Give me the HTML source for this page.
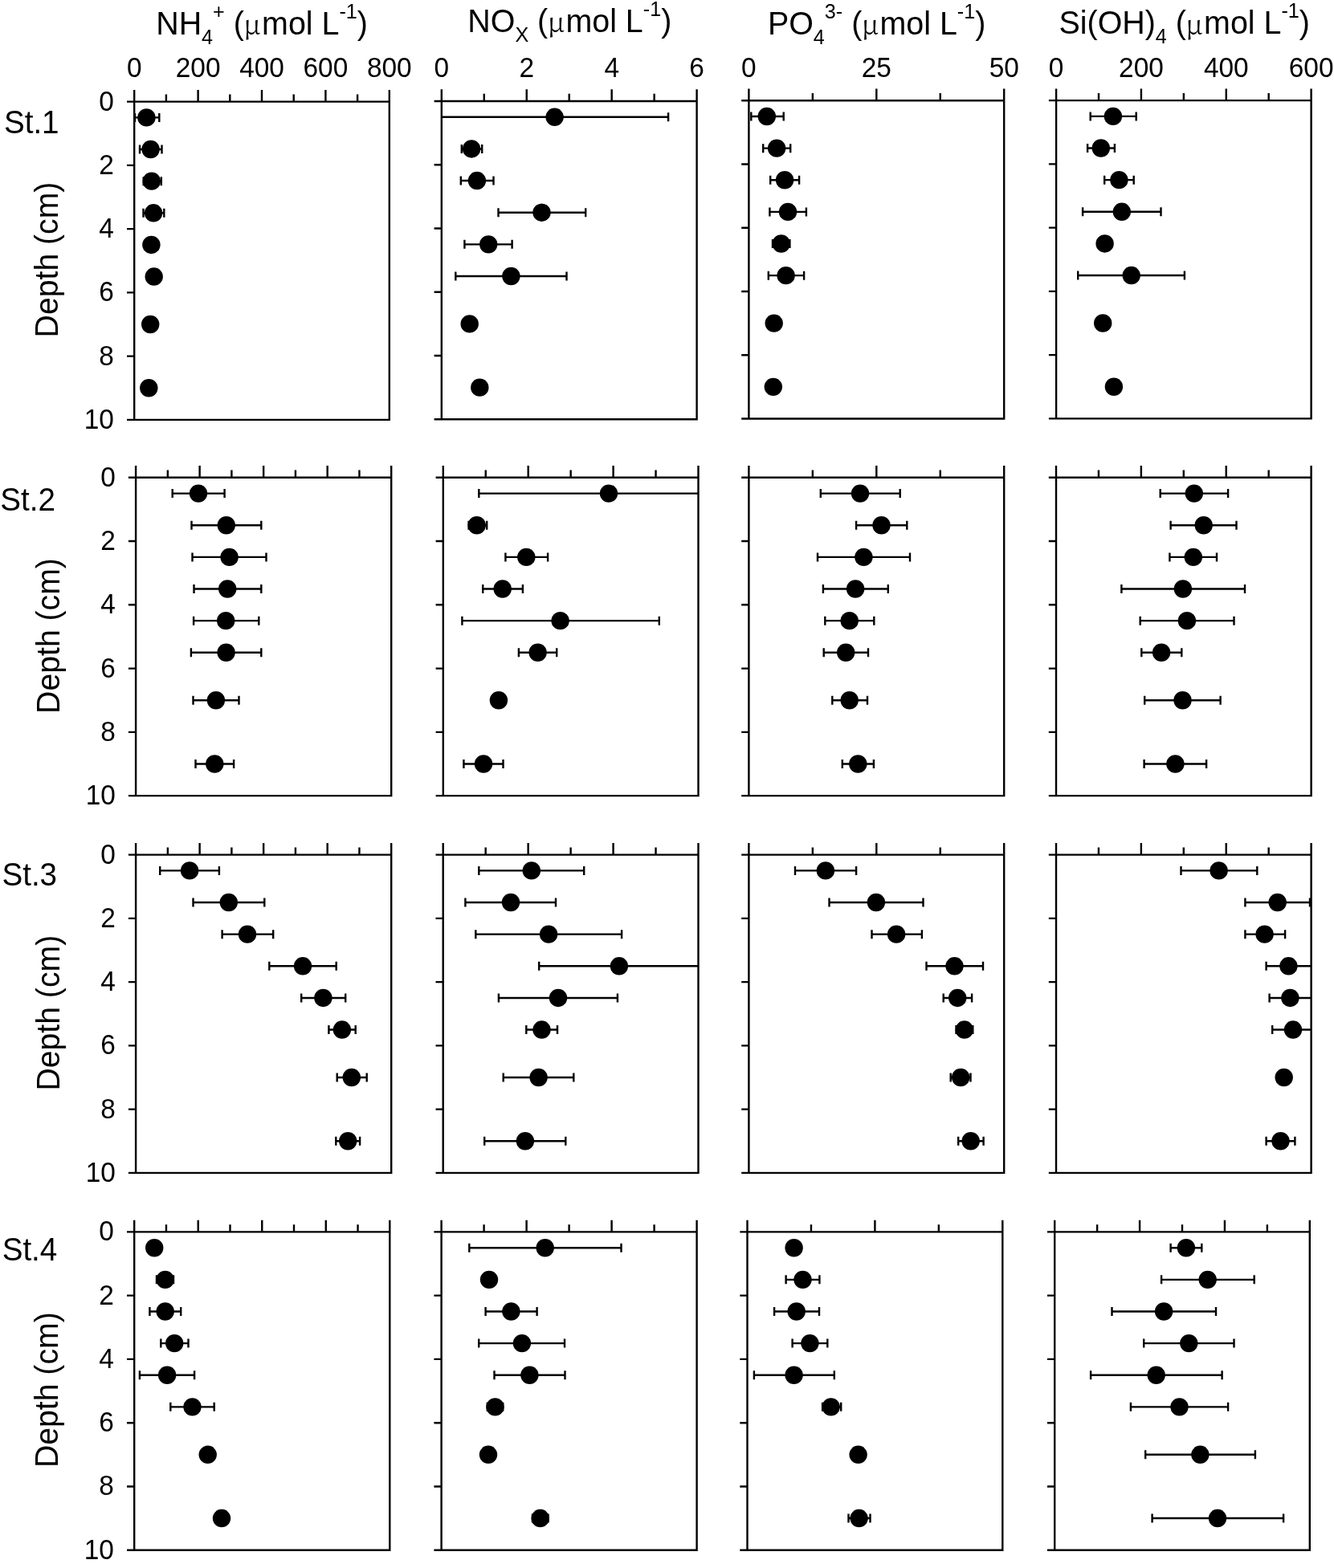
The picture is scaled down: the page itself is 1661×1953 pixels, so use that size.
<!DOCTYPE html>
<html><head><meta charset="utf-8"><title>Nutrient depth profiles</title>
<style>
html,body{margin:0;padding:0;background:#fff;}
body{width:1661px;height:1953px;overflow:hidden;}
svg{display:block;}
</style></head><body>
<svg width="1661" height="1953" viewBox="0 0 1661 1953">
<rect width="1661" height="1953" fill="#fff"/>
<path fill="none" stroke="#000" stroke-width="2.4" stroke-linecap="butt" stroke-linejoin="miter" d="M167.2 126.6H484.8V522.9H167.2ZM167.2 126.6V111.9M206.9 126.6V117.4M246.6 126.6V111.9M286.3 126.6V117.4M326 126.6V111.9M365.7 126.6V117.4M405.4 126.6V111.9M445.1 126.6V117.4M484.8 126.6V111.9M167.2 126.6H158M167.2 205.86H158M167.2 285.12H158M167.2 364.38H158M167.2 443.64H158M167.2 522.9H158M168 146.41H198.3M168 140.91v11M198.3 140.91v11M174 186.04H201.5M174 180.54v11M201.5 180.54v11M178.7 225.67H200.8M178.7 220.17v11M200.8 220.17v11M178.5 265.3H204.3M178.5 259.8v11M204.3 259.8v11M549.8 126H867.6V522.3H549.8ZM549.8 126V111.3M602.77 126V116.8M655.73 126V111.3M708.7 126V116.8M761.67 126V111.3M814.63 126V116.8M867.6 126V111.3M549.8 126H540.6M549.8 205.26H540.6M549.8 284.52H540.6M549.8 363.78H540.6M549.8 443.04H540.6M549.8 522.3H540.6M549.8 145.81H832.1M832.1 140.31v11M574.8 185.44H600.2M574.8 179.94v11M600.2 179.94v11M573.8 225.07H614.5M573.8 219.57v11M614.5 219.57v11M620.5 264.7H729.2M620.5 259.2v11M729.2 259.2v11M578.4 304.33H637.6M578.4 298.83v11M637.6 298.83v11M567.3 343.96H705.5M567.3 338.46v11M705.5 338.46v11M932.4 125.2H1250.2V521.5H932.4ZM932.4 125.2V110.5M1011.85 125.2V116M1091.3 125.2V110.5M1170.75 125.2V116M1250.2 125.2V110.5M932.4 125.2H923.2M932.4 204.46H923.2M932.4 283.72H923.2M932.4 362.98H923.2M932.4 442.24H923.2M932.4 521.5H923.2M935.3 145.02H975.7M935.3 139.52v11M975.7 139.52v11M950.2 184.65H984.2M950.2 179.15v11M984.2 179.15v11M959.2 224.28H995.1M959.2 218.78v11M995.1 218.78v11M958.4 263.9H1003.9M958.4 258.4v11M1003.9 258.4v11M962 303.54H983.4M962 298.04v11M983.4 298.04v11M956.8 343.17H1001.1M956.8 337.67v11M1001.1 337.67v11M1315.1 125.1H1632.6V521.4H1315.1ZM1315.1 125.1V110.4M1368.02 125.1V115.9M1420.93 125.1V110.4M1473.85 125.1V115.9M1526.77 125.1V110.4M1579.68 125.1V115.9M1632.6 125.1V110.4M1315.1 125.1H1305.9M1315.1 204.36H1305.9M1315.1 283.62H1305.9M1315.1 362.88H1305.9M1315.1 442.14H1305.9M1315.1 521.4H1305.9M1357.7 144.91H1414.7M1357.7 139.41v11M1414.7 139.41v11M1354.1 184.54H1387.9M1354.1 179.04v11M1387.9 179.04v11M1375.2 224.17H1411.7M1375.2 218.67v11M1411.7 218.67v11M1348.1 263.8H1445.5M1348.1 258.3v11M1445.5 258.3v11M1342.2 343.06H1474.9M1342.2 337.56v11M1474.9 337.56v11M169.1 594.8H487.2V991.1H169.1ZM169.1 594.8V580.1M208.86 594.8V585.6M248.62 594.8V580.1M288.39 594.8V585.6M328.15 594.8V580.1M367.91 594.8V585.6M407.67 594.8V580.1M447.44 594.8V585.6M487.2 594.8V580.1M169.1 594.8H159.9M169.1 674.06H159.9M169.1 753.32H159.9M169.1 832.58H159.9M169.1 911.84H159.9M169.1 991.1H159.9M214.7 614.62H279.6M214.7 609.12v11M279.6 609.12v11M238.5 654.24H325.3M238.5 648.74v11M325.3 648.74v11M239.5 693.88H331.5M239.5 688.38v11M331.5 688.38v11M241.5 733.5H325.3M241.5 728v11M325.3 728v11M241.1 773.13H322.3M241.1 767.63v11M322.3 767.63v11M237.9 812.76H325.3M237.9 807.26v11M325.3 807.26v11M240.5 872.21H297.5M240.5 866.71v11M297.5 866.71v11M243.5 951.47H291.1M243.5 945.97v11M291.1 945.97v11M551.8 594.8H869.5V991.1H551.8ZM551.8 594.8V580.1M604.75 594.8V585.6M657.7 594.8V580.1M710.65 594.8V585.6M763.6 594.8V580.1M816.55 594.8V585.6M869.5 594.8V580.1M551.8 594.8H542.6M551.8 674.06H542.6M551.8 753.32H542.6M551.8 832.58H542.6M551.8 911.84H542.6M551.8 991.1H542.6M596.3 614.62H869.5M596.3 609.12v11M583.6 654.24H606.2M583.6 648.74v11M606.2 648.74v11M629.4 693.88H682.1M629.4 688.38v11M682.1 688.38v11M601.2 733.5H650.9M601.2 728v11M650.9 728v11M575.4 773.13H820.8M575.4 767.63v11M820.8 767.63v11M645.9 812.76H693.2M645.9 807.26v11M693.2 807.26v11M577.4 951.47H626.5M577.4 945.97v11M626.5 945.97v11M932.4 594.8H1250.2V991.1H932.4ZM932.4 594.8V580.1M1011.85 594.8V585.6M1091.3 594.8V580.1M1170.75 594.8V585.6M1250.2 594.8V580.1M932.4 594.8H923.2M932.4 674.06H923.2M932.4 753.32H923.2M932.4 832.58H923.2M932.4 911.84H923.2M932.4 991.1H923.2M1021.8 614.62H1120.7M1021.8 609.12v11M1120.7 609.12v11M1066.1 654.24H1129.3M1066.1 648.74v11M1129.3 648.74v11M1018 693.88H1133M1018 688.38v11M1133 688.38v11M1024.9 733.5H1105.8M1024.9 728v11M1105.8 728v11M1027.3 773.13H1088.3M1027.3 767.63v11M1088.3 767.63v11M1025.7 812.76H1081M1025.7 807.26v11M1081 807.26v11M1036.3 872.21H1080M1036.3 866.71v11M1080 866.71v11M1048.8 951.47H1087.9M1048.8 945.97v11M1087.9 945.97v11M1315 594.8H1632.6V991.1H1315ZM1315 594.8V580.1M1367.93 594.8V585.6M1420.87 594.8V580.1M1473.8 594.8V585.6M1526.73 594.8V580.1M1579.67 594.8V585.6M1632.6 594.8V580.1M1315 594.8H1305.8M1315 674.06H1305.8M1315 753.32H1305.8M1315 832.58H1305.8M1315 911.84H1305.8M1315 991.1H1305.8M1444.7 614.62H1529.1M1444.7 609.12v11M1529.1 609.12v11M1457.6 654.24H1539.5M1457.6 648.74v11M1539.5 648.74v11M1456.4 693.88H1515M1456.4 688.38v11M1515 688.38v11M1396.4 733.5H1550M1396.4 728v11M1550 728v11M1419.7 773.13H1536.5M1419.7 767.63v11M1536.5 767.63v11M1421.3 812.76H1471.3M1421.3 807.26v11M1471.3 807.26v11M1425.2 872.21H1519.6M1425.2 866.71v11M1519.6 866.71v11M1424.6 951.47H1502.1M1424.6 945.97v11M1502.1 945.97v11M169.1 1064.6H487.2V1460.9H169.1ZM169.1 1064.6V1049.9M208.86 1064.6V1055.4M248.62 1064.6V1049.9M288.39 1064.6V1055.4M328.15 1064.6V1049.9M367.91 1064.6V1055.4M407.67 1064.6V1049.9M447.44 1064.6V1055.4M487.2 1064.6V1049.9M169.1 1064.6H159.9M169.1 1143.86H159.9M169.1 1223.12H159.9M169.1 1302.38H159.9M169.1 1381.64H159.9M169.1 1460.9H159.9M199.2 1084.41H272.9M199.2 1078.91v11M272.9 1078.91v11M240.5 1124.04H329.3M240.5 1118.54v11M329.3 1118.54v11M276.6 1163.67H340.2M276.6 1158.17v11M340.2 1158.17v11M335.3 1203.3H418.7M335.3 1197.8v11M418.7 1197.8v11M375.2 1242.93H430.2M375.2 1237.43v11M430.2 1237.43v11M409.4 1282.56H442.7M409.4 1277.06v11M442.7 1277.06v11M419.7 1342.01H456.7M419.7 1336.51v11M456.7 1336.51v11M418.3 1421.27H448.1M418.3 1415.77v11M448.1 1415.77v11M551.7 1064.6H869.5V1460.9H551.7ZM551.7 1064.6V1049.9M604.67 1064.6V1055.4M657.63 1064.6V1049.9M710.6 1064.6V1055.4M763.57 1064.6V1049.9M816.53 1064.6V1055.4M869.5 1064.6V1049.9M551.7 1064.6H542.5M551.7 1143.86H542.5M551.7 1223.12H542.5M551.7 1302.38H542.5M551.7 1381.64H542.5M551.7 1460.9H542.5M596.3 1084.41H727.2M596.3 1078.91v11M727.2 1078.91v11M579.4 1124.04H692M579.4 1118.54v11M692 1118.54v11M592.3 1163.67H774.1M592.3 1158.17v11M774.1 1158.17v11M671.2 1203.3H869.5M671.2 1197.8v11M620.9 1242.93H768.9M620.9 1237.43v11M768.9 1237.43v11M655.3 1282.56H694M655.3 1277.06v11M694 1277.06v11M626.7 1342.01H714.3M626.7 1336.51v11M714.3 1336.51v11M603.2 1421.27H704.3M603.2 1415.77v11M704.3 1415.77v11M932.4 1064.6H1250.2V1460.9H932.4ZM932.4 1064.6V1049.9M1011.85 1064.6V1055.4M1091.3 1064.6V1049.9M1170.75 1064.6V1055.4M1250.2 1064.6V1049.9M932.4 1064.6H923.2M932.4 1143.86H923.2M932.4 1223.12H923.2M932.4 1302.38H923.2M932.4 1381.64H923.2M932.4 1460.9H923.2M990 1084.41H1066.1M990 1078.91v11M1066.1 1078.91v11M1032.5 1124.04H1149.5M1032.5 1118.54v11M1149.5 1118.54v11M1085.5 1163.67H1147.9M1085.5 1158.17v11M1147.9 1158.17v11M1153.5 1203.3H1224M1153.5 1197.8v11M1224 1197.8v11M1174.7 1242.93H1210.1M1174.7 1237.43v11M1210.1 1237.43v11M1190.5 1282.56H1211.3M1190.5 1277.06v11M1211.3 1277.06v11M1183.7 1342.01H1208.5M1183.7 1336.51v11M1208.5 1336.51v11M1193.2 1421.27H1224.6M1193.2 1415.77v11M1224.6 1415.77v11M1315 1064.6H1632.6V1460.9H1315ZM1315 1064.6V1049.9M1367.93 1064.6V1055.4M1420.87 1064.6V1049.9M1473.8 1064.6V1055.4M1526.73 1064.6V1049.9M1579.67 1064.6V1055.4M1632.6 1064.6V1049.9M1315 1064.6H1305.8M1315 1143.86H1305.8M1315 1223.12H1305.8M1315 1302.38H1305.8M1315 1381.64H1305.8M1315 1460.9H1305.8M1470.5 1084.41H1565.3M1470.5 1078.91v11M1565.3 1078.91v11M1550.4 1124.04H1631M1550.4 1118.54v11M1631 1118.54v11M1550.4 1163.67H1600.1M1550.4 1158.17v11M1600.1 1158.17v11M1576.6 1203.3H1632.6M1576.6 1197.8v11M1580.6 1242.93H1632.6M1580.6 1237.43v11M1584.2 1282.56H1632.6M1584.2 1277.06v11M1576.6 1421.27H1612.4M1576.6 1415.77v11M1612.4 1415.77v11M167.2 1534.4H485.3V1930.7H167.2ZM167.2 1534.4V1519.7M206.96 1534.4V1525.2M246.72 1534.4V1519.7M286.49 1534.4V1525.2M326.25 1534.4V1519.7M366.01 1534.4V1525.2M405.77 1534.4V1519.7M445.54 1534.4V1525.2M485.3 1534.4V1519.7M167.2 1534.4H158M167.2 1613.66H158M167.2 1692.92H158M167.2 1772.18H158M167.2 1851.44H158M167.2 1930.7H158M195 1593.85H216M195 1588.35v11M216 1588.35v11M186.4 1633.48H225.2M186.4 1627.98v11M225.2 1627.98v11M200.3 1673.11H234.5M200.3 1667.61v11M234.5 1667.61v11M173.9 1712.74H242.1M173.9 1707.24v11M242.1 1707.24v11M212.3 1752.37H266.7M212.3 1746.87v11M266.7 1746.87v11M549.6 1534.4H867.6V1930.7H549.6ZM549.6 1534.4V1519.7M602.6 1534.4V1525.2M655.6 1534.4V1519.7M708.6 1534.4V1525.2M761.6 1534.4V1519.7M814.6 1534.4V1525.2M867.6 1534.4V1519.7M549.6 1534.4H540.4M549.6 1613.66H540.4M549.6 1692.92H540.4M549.6 1772.18H540.4M549.6 1851.44H540.4M549.6 1930.7H540.4M584.3 1554.22H773.5M584.3 1548.72v11M773.5 1548.72v11M604.6 1633.48H668.6M604.6 1627.98v11M668.6 1627.98v11M596.2 1673.11H703M596.2 1667.61v11M703 1667.61v11M615.5 1712.74H703.5M615.5 1707.24v11M703.5 1707.24v11M606.8 1752.37H626.2M606.8 1746.87v11M626.2 1746.87v11M663 1891.07H682.5M663 1885.57v11M682.5 1885.57v11M930.5 1534.4H1248.3V1930.7H930.5ZM930.5 1534.4V1519.7M1009.95 1534.4V1525.2M1089.4 1534.4V1519.7M1168.85 1534.4V1525.2M1248.3 1534.4V1519.7M930.5 1534.4H921.3M930.5 1613.66H921.3M930.5 1692.92H921.3M930.5 1772.18H921.3M930.5 1851.44H921.3M930.5 1930.7H921.3M978.6 1593.85H1020.4M978.6 1588.35v11M1020.4 1588.35v11M964.1 1633.48H1020M964.1 1627.98v11M1020 1627.98v11M986.6 1673.11H1030.3M986.6 1667.61v11M1030.3 1667.61v11M938.9 1712.74H1038.8M938.9 1707.24v11M1038.8 1707.24v11M1024.1 1752.37H1047.2M1024.1 1746.87v11M1047.2 1746.87v11M1056.5 1891.07H1083.5M1056.5 1885.57v11M1083.5 1885.57v11M1313.2 1534.4H1630.8V1930.7H1313.2ZM1313.2 1534.4V1519.7M1366.13 1534.4V1525.2M1419.07 1534.4V1519.7M1472 1534.4V1525.2M1524.93 1534.4V1519.7M1577.87 1534.4V1525.2M1630.8 1534.4V1519.7M1313.2 1534.4H1304M1313.2 1613.66H1304M1313.2 1692.92H1304M1313.2 1772.18H1304M1313.2 1851.44H1304M1313.2 1930.7H1304M1457.6 1554.22H1496.3M1457.6 1548.72v11M1496.3 1548.72v11M1446.1 1593.85H1561.7M1446.1 1588.35v11M1561.7 1588.35v11M1384.5 1633.48H1514M1384.5 1627.98v11M1514 1627.98v11M1424.2 1673.11H1536.5M1424.2 1667.61v11M1536.5 1667.61v11M1358.1 1712.74H1521.6M1358.1 1707.24v11M1521.6 1707.24v11M1407.9 1752.37H1529.1M1407.9 1746.87v11M1529.1 1746.87v11M1426.2 1811.81H1562.9M1426.2 1806.31v11M1562.9 1806.31v11M1434.6 1891.07H1598.1M1434.6 1885.57v11M1598.1 1885.57v11"/>
<g fill="#000">
<circle cx="182.4" cy="146.41" r="11.2"/>
<circle cx="187.6" cy="186.04" r="11.2"/>
<circle cx="188.8" cy="225.67" r="11.2"/>
<circle cx="191.1" cy="265.3" r="11.2"/>
<circle cx="188.4" cy="304.93" r="11.2"/>
<circle cx="191.7" cy="344.56" r="11.2"/>
<circle cx="187.2" cy="404.01" r="11.2"/>
<circle cx="185.3" cy="483.27" r="11.2"/>
<circle cx="690.6" cy="145.81" r="11.2"/>
<circle cx="587.1" cy="185.44" r="11.2"/>
<circle cx="593.9" cy="225.07" r="11.2"/>
<circle cx="674.5" cy="264.7" r="11.2"/>
<circle cx="608.2" cy="304.33" r="11.2"/>
<circle cx="636.4" cy="343.96" r="11.2"/>
<circle cx="584.7" cy="403.41" r="11.2"/>
<circle cx="597.3" cy="482.67" r="11.2"/>
<circle cx="954.8" cy="145.02" r="11.2"/>
<circle cx="967.1" cy="184.65" r="11.2"/>
<circle cx="977.1" cy="224.28" r="11.2"/>
<circle cx="981" cy="263.9" r="11.2"/>
<circle cx="972.7" cy="303.54" r="11.2"/>
<circle cx="978.6" cy="343.17" r="11.2"/>
<circle cx="963.7" cy="402.61" r="11.2"/>
<circle cx="962.8" cy="481.87" r="11.2"/>
<circle cx="1385.9" cy="144.91" r="11.2"/>
<circle cx="1370.8" cy="184.54" r="11.2"/>
<circle cx="1393.4" cy="224.17" r="11.2"/>
<circle cx="1396.8" cy="263.8" r="11.2"/>
<circle cx="1375.6" cy="303.43" r="11.2"/>
<circle cx="1408.7" cy="343.06" r="11.2"/>
<circle cx="1373.2" cy="402.51" r="11.2"/>
<circle cx="1386.9" cy="481.77" r="11.2"/>
<circle cx="247" cy="614.62" r="11.2"/>
<circle cx="281.8" cy="654.24" r="11.2"/>
<circle cx="285.6" cy="693.88" r="11.2"/>
<circle cx="283.2" cy="733.5" r="11.2"/>
<circle cx="281.2" cy="773.13" r="11.2"/>
<circle cx="281.6" cy="812.76" r="11.2"/>
<circle cx="268.9" cy="872.21" r="11.2"/>
<circle cx="267.3" cy="951.47" r="11.2"/>
<circle cx="758" cy="614.62" r="11.2"/>
<circle cx="593.7" cy="654.24" r="11.2"/>
<circle cx="655.3" cy="693.88" r="11.2"/>
<circle cx="625.7" cy="733.5" r="11.2"/>
<circle cx="697.6" cy="773.13" r="11.2"/>
<circle cx="669.6" cy="812.76" r="11.2"/>
<circle cx="620.9" cy="872.21" r="11.2"/>
<circle cx="602" cy="951.47" r="11.2"/>
<circle cx="1071" cy="614.62" r="11.2"/>
<circle cx="1097.5" cy="654.24" r="11.2"/>
<circle cx="1075.4" cy="693.88" r="11.2"/>
<circle cx="1065.1" cy="733.5" r="11.2"/>
<circle cx="1057.7" cy="773.13" r="11.2"/>
<circle cx="1053.2" cy="812.76" r="11.2"/>
<circle cx="1057.7" cy="872.21" r="11.2"/>
<circle cx="1068.3" cy="951.47" r="11.2"/>
<circle cx="1486.8" cy="614.62" r="11.2"/>
<circle cx="1498.7" cy="654.24" r="11.2"/>
<circle cx="1485.8" cy="693.88" r="11.2"/>
<circle cx="1472.9" cy="733.5" r="11.2"/>
<circle cx="1477.9" cy="773.13" r="11.2"/>
<circle cx="1446.1" cy="812.76" r="11.2"/>
<circle cx="1472.5" cy="872.21" r="11.2"/>
<circle cx="1463.4" cy="951.47" r="11.2"/>
<circle cx="236.1" cy="1084.41" r="11.2"/>
<circle cx="284.8" cy="1124.04" r="11.2"/>
<circle cx="308" cy="1163.67" r="11.2"/>
<circle cx="377" cy="1203.3" r="11.2"/>
<circle cx="402.4" cy="1242.93" r="11.2"/>
<circle cx="425.9" cy="1282.56" r="11.2"/>
<circle cx="437.8" cy="1342.01" r="11.2"/>
<circle cx="433.2" cy="1421.27" r="11.2"/>
<circle cx="661.8" cy="1084.41" r="11.2"/>
<circle cx="636" cy="1124.04" r="11.2"/>
<circle cx="683.1" cy="1163.67" r="11.2"/>
<circle cx="770.9" cy="1203.3" r="11.2"/>
<circle cx="695" cy="1242.93" r="11.2"/>
<circle cx="674.5" cy="1282.56" r="11.2"/>
<circle cx="670.6" cy="1342.01" r="11.2"/>
<circle cx="653.9" cy="1421.27" r="11.2"/>
<circle cx="1027.9" cy="1084.41" r="11.2"/>
<circle cx="1090.9" cy="1124.04" r="11.2"/>
<circle cx="1116.1" cy="1163.67" r="11.2"/>
<circle cx="1188.5" cy="1203.3" r="11.2"/>
<circle cx="1192.2" cy="1242.93" r="11.2"/>
<circle cx="1200.8" cy="1282.56" r="11.2"/>
<circle cx="1196.2" cy="1342.01" r="11.2"/>
<circle cx="1208.7" cy="1421.27" r="11.2"/>
<circle cx="1517.6" cy="1084.41" r="11.2"/>
<circle cx="1590.7" cy="1124.04" r="11.2"/>
<circle cx="1574.6" cy="1163.67" r="11.2"/>
<circle cx="1604.4" cy="1203.3" r="11.2"/>
<circle cx="1606.4" cy="1242.93" r="11.2"/>
<circle cx="1610" cy="1282.56" r="11.2"/>
<circle cx="1598.7" cy="1342.01" r="11.2"/>
<circle cx="1594.5" cy="1421.27" r="11.2"/>
<circle cx="192.2" cy="1554.22" r="11.2"/>
<circle cx="205.7" cy="1593.85" r="11.2"/>
<circle cx="205.7" cy="1633.48" r="11.2"/>
<circle cx="217.2" cy="1673.11" r="11.2"/>
<circle cx="208.1" cy="1712.74" r="11.2"/>
<circle cx="239.5" cy="1752.37" r="11.2"/>
<circle cx="258.7" cy="1811.81" r="11.2"/>
<circle cx="276" cy="1891.07" r="11.2"/>
<circle cx="678.7" cy="1554.22" r="11.2"/>
<circle cx="609" cy="1593.85" r="11.2"/>
<circle cx="636.4" cy="1633.48" r="11.2"/>
<circle cx="649.9" cy="1673.11" r="11.2"/>
<circle cx="659.4" cy="1712.74" r="11.2"/>
<circle cx="616.5" cy="1752.37" r="11.2"/>
<circle cx="608" cy="1811.81" r="11.2"/>
<circle cx="672.7" cy="1891.07" r="11.2"/>
<circle cx="988.6" cy="1554.22" r="11.2"/>
<circle cx="999.5" cy="1593.85" r="11.2"/>
<circle cx="991.7" cy="1633.48" r="11.2"/>
<circle cx="1008.4" cy="1673.11" r="11.2"/>
<circle cx="988.6" cy="1712.74" r="11.2"/>
<circle cx="1034.7" cy="1752.37" r="11.2"/>
<circle cx="1068.6" cy="1811.81" r="11.2"/>
<circle cx="1069.6" cy="1891.07" r="11.2"/>
<circle cx="1476.9" cy="1554.22" r="11.2"/>
<circle cx="1503.7" cy="1593.85" r="11.2"/>
<circle cx="1449.1" cy="1633.48" r="11.2"/>
<circle cx="1480.3" cy="1673.11" r="11.2"/>
<circle cx="1439.7" cy="1712.74" r="11.2"/>
<circle cx="1468.5" cy="1752.37" r="11.2"/>
<circle cx="1494.4" cy="1811.81" r="11.2"/>
<circle cx="1516" cy="1891.07" r="11.2"/>
</g>
<g fill="#000" font-family='"Liberation Sans", sans-serif'>
<text transform="translate(167.2 96.3) scale(1 1.04)" font-size="33.4" text-anchor="middle">0</text>
<text transform="translate(246.6 96.3) scale(1 1.04)" font-size="33.4" text-anchor="middle">200</text>
<text transform="translate(326 96.3) scale(1 1.04)" font-size="33.4" text-anchor="middle">400</text>
<text transform="translate(405.4 96.3) scale(1 1.04)" font-size="33.4" text-anchor="middle">600</text>
<text transform="translate(484.8 96.3) scale(1 1.04)" font-size="33.4" text-anchor="middle">800</text>
<text transform="translate(549.8 96.3) scale(1 1.04)" font-size="33.4" text-anchor="middle">0</text>
<text transform="translate(655.73 96.3) scale(1 1.04)" font-size="33.4" text-anchor="middle">2</text>
<text transform="translate(761.67 96.3) scale(1 1.04)" font-size="33.4" text-anchor="middle">4</text>
<text transform="translate(867.6 96.3) scale(1 1.04)" font-size="33.4" text-anchor="middle">6</text>
<text transform="translate(932.4 96.3) scale(1 1.04)" font-size="33.4" text-anchor="middle">0</text>
<text transform="translate(1091.3 96.3) scale(1 1.04)" font-size="33.4" text-anchor="middle">25</text>
<text transform="translate(1250.2 96.3) scale(1 1.04)" font-size="33.4" text-anchor="middle">50</text>
<text transform="translate(1315.1 96.3) scale(1 1.04)" font-size="33.4" text-anchor="middle">0</text>
<text transform="translate(1420.93 96.3) scale(1 1.04)" font-size="33.4" text-anchor="middle">200</text>
<text transform="translate(1526.77 96.3) scale(1 1.04)" font-size="33.4" text-anchor="middle">400</text>
<text transform="translate(1632.6 96.3) scale(1 1.04)" font-size="33.4" text-anchor="middle">600</text>
<text transform="translate(141.9 137.6) scale(1 1.04)" font-size="33.4" text-anchor="end">0</text>
<text transform="translate(141.9 216.86) scale(1 1.04)" font-size="33.4" text-anchor="end">2</text>
<text transform="translate(141.9 296.12) scale(1 1.04)" font-size="33.4" text-anchor="end">4</text>
<text transform="translate(141.9 375.38) scale(1 1.04)" font-size="33.4" text-anchor="end">6</text>
<text transform="translate(141.9 454.64) scale(1 1.04)" font-size="33.4" text-anchor="end">8</text>
<text transform="translate(141.9 533.9) scale(1 1.04)" font-size="33.4" text-anchor="end">10</text>
<text transform="translate(143.8 605.8) scale(1 1.04)" font-size="33.4" text-anchor="end">0</text>
<text transform="translate(143.8 685.06) scale(1 1.04)" font-size="33.4" text-anchor="end">2</text>
<text transform="translate(143.8 764.32) scale(1 1.04)" font-size="33.4" text-anchor="end">4</text>
<text transform="translate(143.8 843.58) scale(1 1.04)" font-size="33.4" text-anchor="end">6</text>
<text transform="translate(143.8 922.84) scale(1 1.04)" font-size="33.4" text-anchor="end">8</text>
<text transform="translate(143.8 1002.1) scale(1 1.04)" font-size="33.4" text-anchor="end">10</text>
<text transform="translate(143.8 1075.6) scale(1 1.04)" font-size="33.4" text-anchor="end">0</text>
<text transform="translate(143.8 1154.86) scale(1 1.04)" font-size="33.4" text-anchor="end">2</text>
<text transform="translate(143.8 1234.12) scale(1 1.04)" font-size="33.4" text-anchor="end">4</text>
<text transform="translate(143.8 1313.38) scale(1 1.04)" font-size="33.4" text-anchor="end">6</text>
<text transform="translate(143.8 1392.64) scale(1 1.04)" font-size="33.4" text-anchor="end">8</text>
<text transform="translate(143.8 1471.9) scale(1 1.04)" font-size="33.4" text-anchor="end">10</text>
<text transform="translate(141.9 1545.4) scale(1 1.04)" font-size="33.4" text-anchor="end">0</text>
<text transform="translate(141.9 1624.66) scale(1 1.04)" font-size="33.4" text-anchor="end">2</text>
<text transform="translate(141.9 1703.92) scale(1 1.04)" font-size="33.4" text-anchor="end">4</text>
<text transform="translate(141.9 1783.18) scale(1 1.04)" font-size="33.4" text-anchor="end">6</text>
<text transform="translate(141.9 1862.44) scale(1 1.04)" font-size="33.4" text-anchor="end">8</text>
<text transform="translate(141.9 1941.7) scale(1 1.04)" font-size="33.4" text-anchor="end">10</text>
<text transform="translate(4.95 165.5) scale(1 1.04)" font-size="38.6">St.1</text>
<text transform="translate(0.25 635.5) scale(1 1.04)" font-size="38.6">St.2</text>
<text transform="translate(2.45 1103.3) scale(1 1.04)" font-size="38.6">St.3</text>
<text transform="translate(2.65 1570.4) scale(1 1.04)" font-size="38.6">St.4</text>
<text transform="translate(71.8 323.5) rotate(-90) scale(1 1.02)" text-anchor="middle" font-size="39.2">Depth (cm)</text>
<text transform="translate(74.3 792) rotate(-90) scale(1 1.02)" text-anchor="middle" font-size="39.2">Depth (cm)</text>
<text transform="translate(74.3 1261.7) rotate(-90) scale(1 1.02)" text-anchor="middle" font-size="39.2">Depth (cm)</text>
<text transform="translate(71.8 1731.2) rotate(-90) scale(1 1.02)" text-anchor="middle" font-size="39.2">Depth (cm)</text>
<text transform="translate(194.2 42.7) scale(1 1.02)" font-size="39.4" xml:space="preserve">NH<tspan font-size="25.2" dy="11.76">4</tspan><tspan font-size="25.2" dy="-31.37">+</tspan><tspan dy="19.61"> (</tspan><tspan font-family="'Noto Serif CJK SC', 'Liberation Serif', serif" font-size="34" dx="-0.6" dy="0.7">&#956;</tspan><tspan dx="1.5" dy="-0.7">mol L</tspan><tspan font-size="25.2" dy="-19.61">-1</tspan><tspan dy="19.61">)</tspan></text>
<text transform="translate(582.3 39.6) scale(1 1.02)" font-size="39.4" xml:space="preserve">NO<tspan font-size="25.2" dy="11.76">X</tspan><tspan dy="-11.76"> (</tspan><tspan font-family="'Noto Serif CJK SC', 'Liberation Serif', serif" font-size="34" dx="-0.6" dy="0.7">&#956;</tspan><tspan dx="1.5" dy="-0.7">mol L</tspan><tspan font-size="25.2" dy="-19.61">-1</tspan><tspan dy="19.61">)</tspan></text>
<text transform="translate(955.9 42.6) scale(1 1.02)" font-size="39.4" xml:space="preserve">PO<tspan font-size="25.2" dy="11.76">4</tspan><tspan font-size="25.2" dy="-31.37">3-</tspan><tspan dy="19.61"> (</tspan><tspan font-family="'Noto Serif CJK SC', 'Liberation Serif', serif" font-size="34" dx="-0.6" dy="0.7">&#956;</tspan><tspan dx="1.5" dy="-0.7">mol L</tspan><tspan font-size="25.2" dy="-19.61">-1</tspan><tspan dy="19.61">)</tspan></text>
<text transform="translate(1318.5 41.8) scale(1 1.02)" font-size="39.4" xml:space="preserve">Si(OH)<tspan font-size="25.2" dy="11.76">4</tspan><tspan dy="-11.76"> (</tspan><tspan font-family="'Noto Serif CJK SC', 'Liberation Serif', serif" font-size="34" dx="-0.6" dy="0.7">&#956;</tspan><tspan dx="1.5" dy="-0.7">mol L</tspan><tspan font-size="25.2" dy="-19.61">-1</tspan><tspan dy="19.61">)</tspan></text>
</g>
</svg>
</body></html>
